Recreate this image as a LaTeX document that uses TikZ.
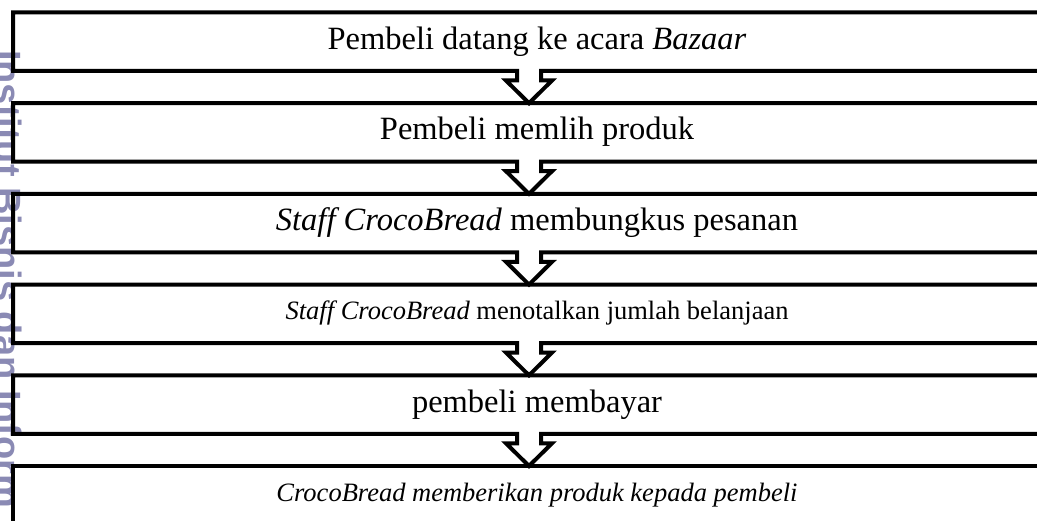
\documentclass[tikz,border=0pt]{standalone}
\usepackage{fontspec}
\setmainfont{Liberation Serif}
\newfontfamily\wmfont{Liberation Sans}
\usetikzlibrary{calc}
\definecolor{wmcolor}{RGB}{138,138,180}
\begin{document}
\begin{tikzpicture}[x=1pt,y=1pt,
  boxline/.style={line width=4pt, line join=miter},
  stepbox/.style={minimum width=1048pt, minimum height=58.5pt, inner sep=0pt, outer sep=0pt,
    font=\fontsize{32.5}{39}\selectfont, text height=22pt, text depth=7pt},
  smalltext/.style={font=\fontsize{26.5}{32}\selectfont, text height=18pt, text depth=5.7pt}]
\useasboundingbox (0,0) rectangle (1037,521);
\node[rotate=-90, anchor=base west, inner sep=0pt, text=wmcolor,
  font=\wmfont\bfseries\fontsize{38}{40}\selectfont] (wm) at (-5,471) {Institut Bisnis dan Inform};
\node[stepbox] (b1) at (537,479.25) {Pembeli datang ke acara \textit{Bazaar}};
\node[stepbox] (b2) at (537,388.55) {Pembeli memlih produk};
\node[stepbox] (b3) at (537,297.85) {\textit{Staff CrocoBread} membungkus pesanan};
\node[stepbox, smalltext] (b4) at (537,207.15) {\textit{Staff CrocoBread} menotalkan jumlah belanjaan};
\node[stepbox] (b5) at (537,116.45) {pembeli membayar};
\node[stepbox, smalltext] (b6) at (537,25.75) {\textit{CrocoBread memberikan produk kepada pembeli}};
\foreach \i [evaluate=\i as \j using int(\i+1)] in {1,...,5}{
  \draw[boxline] (b\i.north east) -- (b\i.north west) -- (b\i.south west)
    -- ($(b\i.south)+(-20,0)$) -- ++(0,-9.5) -- ++(-11,0)
    -- ($(b\j.north)+(-8,0)$)
    -- ($(b\i.south)+(15,-9.5)$) -- ++(-11,0) -- ++(0,9.5)
    -- (b\i.south east) -- cycle;
}
\draw[boxline] (b6.south west) rectangle (b6.north east);
\end{tikzpicture}
\end{document}
